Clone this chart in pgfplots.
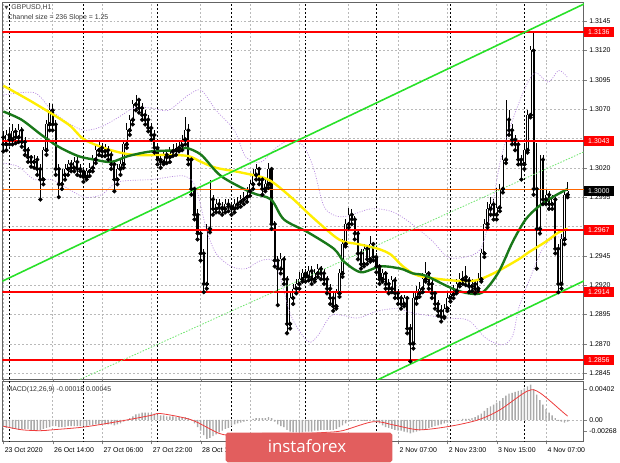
\documentclass[border=0pt]{standalone}
\usepackage{pgfplots}
\pgfplotsset{compat=1.18}
\usepackage{pgfplotstable}
\usepackage{fontspec}
\setmainfont{Liberation Sans}
\newfontfamily\dejavu{DejaVu Sans}
\newfontfamily\logofont{Open Sans}

\definecolor{mtred}{RGB}{255,0,0}
\definecolor{chgreen}{RGB}{40,225,40}
\definecolor{chgreenlt}{RGB}{110,230,110}
\definecolor{mayellow}{RGB}{255,238,0}
\definecolor{madark}{RGB}{25,120,25}
\definecolor{bbviolet}{RGB}{185,140,225}
\definecolor{gridgray}{RGB}{185,185,185}
\definecolor{logored}{RGB}{226,94,94}
\definecolor{framegray}{RGB}{100,100,100}
\definecolor{sigred}{RGB}{238,60,60}
\definecolor{histgray}{RGB}{170,170,170}

\pgfplotstableread{
x o h l c
0 1.3046 1.3051 1.3034 1.3040
1 1.3040 1.3052 1.3035 1.3048
2 1.3048 1.3054 1.3040 1.3044
3 1.3044 1.3057 1.3040 1.3051
4 1.3051 1.3054 1.3041 1.3046
5 1.3046 1.3057 1.3042 1.3052
6 1.3052 1.3055 1.3038 1.3042
7 1.3042 1.3046 1.3031 1.3035
8 1.3035 1.3038 1.3025 1.3029
9 1.3029 1.3031 1.3021 1.3025
10 1.3025 1.3031 1.3020 1.3027
11 1.3027 1.3030 1.3014 1.3019
12 1.3019 1.3023 1.2993 1.3010
13 1.3010 1.3038 1.3006 1.3035
14 1.3035 1.3061 1.3031 1.3057
15 1.3057 1.3075 1.3052 1.3069
16 1.3069 1.3074 1.3052 1.3057
17 1.3057 1.3061 1.3014 1.3019
18 1.3019 1.3023 1.2995 1.3006
19 1.3006 1.3019 1.3002 1.3014
20 1.3014 1.3023 1.3010 1.3019
21 1.3019 1.3027 1.3014 1.3023
22 1.3023 1.3027 1.3017 1.3020
23 1.3020 1.3029 1.3017 1.3025
24 1.3025 1.3029 1.3014 1.3019
25 1.3019 1.3023 1.3013 1.3017
26 1.3017 1.3020 1.3008 1.3012
27 1.3012 1.3020 1.3010 1.3017
28 1.3017 1.3024 1.3013 1.3020
29 1.3020 1.3031 1.3017 1.3027
30 1.3027 1.3040 1.3024 1.3035
31 1.3035 1.3042 1.3031 1.3037
32 1.3037 1.3041 1.3030 1.3034
33 1.3034 1.3040 1.3030 1.3035
34 1.3035 1.3039 1.3027 1.3031
35 1.3031 1.3034 1.3019 1.3023
36 1.3023 1.3025 1.3000 1.3010
37 1.3010 1.3023 1.3006 1.3019
38 1.3019 1.3027 1.3014 1.3023
39 1.3023 1.3044 1.3020 1.3040
40 1.3040 1.3058 1.3037 1.3052
41 1.3052 1.3065 1.3048 1.3061
42 1.3061 1.3078 1.3057 1.3074
43 1.3074 1.3082 1.3069 1.3078
44 1.3078 1.3079 1.3067 1.3071
45 1.3071 1.3075 1.3061 1.3065
46 1.3065 1.3069 1.3057 1.3061
47 1.3061 1.3065 1.3051 1.3054
48 1.3054 1.3058 1.3044 1.3048
49 1.3048 1.3052 1.3033 1.3037
50 1.3037 1.3040 1.3023 1.3027
51 1.3027 1.3031 1.3020 1.3025
52 1.3025 1.3035 1.3023 1.3031
53 1.3031 1.3034 1.3024 1.3029
54 1.3029 1.3038 1.3025 1.3034
55 1.3034 1.3040 1.3030 1.3035
56 1.3035 1.3041 1.3031 1.3037
57 1.3037 1.3044 1.3034 1.3039
58 1.3039 1.3048 1.3035 1.3044
59 1.3044 1.3063 1.3040 1.3052
60 1.3052 1.3057 1.3023 1.3027
61 1.3027 1.3030 1.2997 1.3002
62 1.3002 1.3004 1.2976 1.2980
63 1.2980 1.2985 1.2959 1.2964
64 1.2964 1.2968 1.2941 1.2947
65 1.2947 1.2951 1.2914 1.2921
66 1.2921 1.2972 1.2917 1.2968
67 1.2968 1.3010 1.2965 1.2993
68 1.2993 1.2997 1.2980 1.2985
69 1.2985 1.2993 1.2982 1.2989
70 1.2989 1.2993 1.2982 1.2986
71 1.2986 1.2991 1.2980 1.2985
72 1.2985 1.2993 1.2982 1.2989
73 1.2989 1.2993 1.2983 1.2987
74 1.2987 1.2991 1.2980 1.2985
75 1.2985 1.2993 1.2982 1.2989
76 1.2989 1.2995 1.2986 1.2991
77 1.2991 1.2997 1.2987 1.2993
78 1.2993 1.2999 1.2989 1.2995
79 1.2995 1.3004 1.2991 1.3000
80 1.3000 1.3010 1.2996 1.3006
81 1.3006 1.3019 1.3002 1.3014
82 1.3014 1.3023 1.3010 1.3019
83 1.3019 1.3021 1.3006 1.3010
84 1.3010 1.3013 1.2997 1.3002
85 1.3002 1.3012 1.3000 1.3006
86 1.3006 1.3024 1.3003 1.3019
87 1.3019 1.3021 1.2968 1.2972
88 1.2972 1.2975 1.2936 1.2941
89 1.2941 1.2945 1.2903 1.2934
90 1.2934 1.2947 1.2930 1.2942
91 1.2942 1.2945 1.2921 1.2925
92 1.2925 1.2928 1.2879 1.2887
93 1.2887 1.2913 1.2883 1.2909
94 1.2909 1.2921 1.2904 1.2917
95 1.2917 1.2925 1.2913 1.2921
96 1.2921 1.2931 1.2917 1.2925
97 1.2925 1.2934 1.2923 1.2930
98 1.2930 1.2934 1.2923 1.2927
99 1.2927 1.2936 1.2924 1.2932
100 1.2932 1.2936 1.2921 1.2925
101 1.2925 1.2934 1.2923 1.2930
102 1.2930 1.2938 1.2927 1.2934
103 1.2934 1.2936 1.2925 1.2930
104 1.2930 1.2934 1.2921 1.2925
105 1.2925 1.2928 1.2913 1.2917
106 1.2917 1.2921 1.2904 1.2909
107 1.2909 1.2913 1.2898 1.2902
108 1.2902 1.2917 1.2900 1.2913
109 1.2913 1.2934 1.2910 1.2930
110 1.2930 1.2959 1.2927 1.2955
111 1.2955 1.2976 1.2953 1.2972
112 1.2972 1.2986 1.2969 1.2980
113 1.2980 1.2985 1.2972 1.2976
114 1.2976 1.2979 1.2959 1.2964
115 1.2964 1.2968 1.2942 1.2947
116 1.2947 1.2951 1.2934 1.2938
117 1.2938 1.2955 1.2936 1.2951
118 1.2951 1.2953 1.2938 1.2942
119 1.2942 1.2962 1.2940 1.2955
120 1.2955 1.2957 1.2941 1.2944
121 1.2944 1.2947 1.2931 1.2936
122 1.2936 1.2938 1.2921 1.2925
123 1.2925 1.2934 1.2923 1.2930
124 1.2930 1.2932 1.2917 1.2921
125 1.2921 1.2925 1.2913 1.2917
126 1.2917 1.2928 1.2914 1.2924
127 1.2924 1.2927 1.2909 1.2913
128 1.2913 1.2917 1.2904 1.2909
129 1.2909 1.2912 1.2900 1.2904
130 1.2904 1.2912 1.2902 1.2909
131 1.2909 1.2911 1.2879 1.2883
132 1.2883 1.2887 1.2855 1.2870
133 1.2870 1.2913 1.2866 1.2909
134 1.2909 1.2919 1.2904 1.2913
135 1.2913 1.2923 1.2910 1.2917
136 1.2917 1.2930 1.2914 1.2925
137 1.2925 1.2940 1.2923 1.2930
138 1.2930 1.2932 1.2917 1.2921
139 1.2921 1.2924 1.2909 1.2913
140 1.2913 1.2915 1.2900 1.2904
141 1.2904 1.2907 1.2894 1.2898
142 1.2898 1.2903 1.2889 1.2893
143 1.2893 1.2904 1.2892 1.2900
144 1.2900 1.2913 1.2898 1.2909
145 1.2909 1.2917 1.2906 1.2912
146 1.2912 1.2920 1.2909 1.2915
147 1.2915 1.2925 1.2913 1.2921
148 1.2921 1.2930 1.2919 1.2925
149 1.2925 1.2932 1.2921 1.2927
150 1.2927 1.2936 1.2920 1.2924
151 1.2924 1.2927 1.2914 1.2919
152 1.2919 1.2925 1.2915 1.2921
153 1.2921 1.2924 1.2913 1.2917
154 1.2917 1.2930 1.2915 1.2925
155 1.2925 1.2951 1.2923 1.2947
156 1.2947 1.2976 1.2944 1.2972
157 1.2972 1.2991 1.2969 1.2985
158 1.2985 1.2995 1.2980 1.2989
159 1.2989 1.2993 1.2976 1.2980
160 1.2980 1.3003 1.2976 1.2986
161 1.2986 1.3006 1.2983 1.3002
162 1.3002 1.3031 1.2999 1.3027
163 1.3027 1.3078 1.3024 1.3061
164 1.3061 1.3069 1.3048 1.3052
165 1.3052 1.3057 1.3040 1.3044
166 1.3044 1.3048 1.3035 1.3040
167 1.3040 1.3042 1.3023 1.3027
168 1.3027 1.3031 1.3010 1.3023
169 1.3023 1.3040 1.3019 1.3035
170 1.3035 1.3069 1.3033 1.3065
171 1.3065 1.3124 1.3063 1.3120
172 1.3120 1.3137 1.2997 1.3002
173 1.3002 1.3041 1.2934 1.2968
174 1.2968 1.3031 1.2964 1.3027
175 1.3027 1.3031 1.2989 1.2993
176 1.2993 1.3002 1.2989 1.2997
177 1.2997 1.3000 1.2985 1.2989
178 1.2989 1.2997 1.2985 1.2993
179 1.2993 1.2995 1.2947 1.2951
180 1.2951 1.2955 1.2914 1.2921
181 1.2921 1.2964 1.2917 1.2959
182 1.2959 1.3002 1.2955 1.2997
183 1.2997 1.3008 1.2995 1.3000
}\candles

\pgfplotsset{
  daysep/.style={black, dash pattern=on 2pt off 2pt, line width=0.6pt, forget plot},
  hgrid/.style={gridgray, dash pattern=on 2pt off 2pt, line width=0.5pt, forget plot},
}

\begin{document}
\begin{tikzpicture}[x=1pt,y=1pt]
\fill[white] (0,0) rectangle (620,465);

% ---------------- main price pane ----------------
\begin{axis}[
  at={(2pt,84pt)}, anchor=south west, scale only axis,
  width=586pt, height=379pt,
  xmin=-0.3, xmax=188.25, ymin=1.2840, ymax=1.31605,
  axis line style={framegray, line width=1pt},
  xtick={0,16,32,48,64,80,96,112,128,144,160,176},
  xticklabels={},
  xtick style={draw=none},
  ytick={1.2845,1.2870,1.2895,1.2920,1.2945,1.2995,1.3020,1.3070,1.3095,1.3120,1.3145},
  ytick pos=right, yticklabel pos=right,
  tick align=outside, major tick length=3pt,
  xmajorgrids, ymajorgrids,
  major grid style={gridgray, dash pattern=on 2pt off 2pt, line width=0.5pt},
  yticklabel style={font=\fontsize{7}{8}\selectfont, text=black, xshift=-1pt,
    /pgf/number format/.cd, fixed, fixed zerofill, precision=4, assume math mode=true},
]
% hidden-label grid lines and day separators
\addplot[hgrid] coordinates {(-1,1.2970)(190,1.2970)};
\addplot[hgrid] coordinates {(-1,1.3045)(190,1.3045)};
\addplot[daysep] coordinates {(2,1.2830)(2,1.3170)};
\addplot[daysep] coordinates {(26,1.2830)(26,1.3170)};
\addplot[daysep] coordinates {(50,1.2830)(50,1.3170)};
\addplot[daysep] coordinates {(74,1.2830)(74,1.3170)};
\addplot[daysep] coordinates {(98,1.2830)(98,1.3170)};
\addplot[daysep] coordinates {(121,1.2830)(121,1.3170)};
\addplot[daysep] coordinates {(145,1.2830)(145,1.3170)};
\addplot[daysep] coordinates {(169,1.2830)(169,1.3170)};

% candle wicks
\addplot[only marks, mark=none, forget plot,
  error bars/.cd, y dir=plus, y explicit, error mark=none,
  error bar style={black, line width=0.7pt}]
  table[x=x, y=l, y error plus expr=\thisrow{h}-\thisrow{l}] {\candles};
% candle bodies
\addplot[only marks, mark=none, forget plot,
  error bars/.cd, y dir=plus, y explicit, error mark=none,
  error bar style={black, line width=2.2pt}]
  table[x=x, y expr={min(\thisrow{o},\thisrow{c})}, y error plus expr={abs(\thisrow{c}-\thisrow{o})}] {\candles};
% bullish hollow inner
\addplot[only marks, mark=none, forget plot,
  error bars/.cd, y dir=plus, y explicit, error mark=none,
  error bar style={white, line width=0.9pt}]
  table[x=x, y=o, y error plus expr={max(\thisrow{c}-\thisrow{o},0)}] {\candles};

% Bollinger bands
\addplot[bbviolet, line width=0.7pt, dash pattern=on 1pt off 1.5pt, smooth, tension=0.5] coordinates {
(0,1.3082)(10.1,1.3084)(15.6,1.3069)(21.1,1.3058)(26.3,1.3052)(31.8,1.3055)(37.3,1.3063)(42.5,1.3071)(48,1.3071)(53.5,1.3069)(60,1.3082)(64.2,1.3086)(69,1.3069)(74.9,1.3052)(78.7,1.3029)(83.6,1.3025)(88.4,1.3037)(93.3,1.3044)(97.5,1.3038)(100.7,1.3019)(104,1.2987)(107.9,1.2979)(111.8,1.2979)(119.2,1.2985)(125.7,1.2983)(130.5,1.2976)(138.6,1.2959)(144.1,1.2944)(149.9,1.2944)(154.8,1.2951)(158,1.2980)(161.3,1.3027)(165.2,1.3061)(169.4,1.3089)(172.6,1.3101)(176.8,1.3093)(180.1,1.3103)(183,1.3097)};
\addplot[bbviolet, line width=0.7pt, dash pattern=on 1pt off 1.5pt, smooth, tension=0.5] coordinates {
(0,1.3024)(4.9,1.3021)(10.1,1.3010)(15.6,1.3010)(21.1,1.3002)(26.3,1.2995)(31.8,1.2997)(37.3,1.3008)(48,1.3010)(58.7,1.3013)(62.6,1.3002)(65.8,1.2968)(69,1.2947)(73.9,1.2936)(78.7,1.2934)(83.6,1.2941)(88.4,1.2938)(93.3,1.2894)(98.8,1.2872)(102,1.2877)(106.2,1.2894)(110.5,1.2894)(115,1.2892)(121.5,1.2898)(127.9,1.2900)(133.1,1.2896)(144.1,1.2892)(150.9,1.2890)(156.4,1.2875)(161.9,1.2869)(165.2,1.2877)(167.1,1.2900)(170.4,1.2923)(174.9,1.2951)(179.1,1.2961)(183,1.2959)};

% moving averages
\addplot[mayellow, line width=2.4pt, smooth, tension=0.5] coordinates {
(0,1.3090)(10.1,1.3075)(21.1,1.3057)(26.3,1.3044)(35,1.3035)(42.5,1.3031)(53.5,1.3031)(60,1.3030)(64.2,1.3025)(69,1.3020)(77.1,1.3016)(85.9,1.3010)(93.3,1.2995)(99.8,1.2979)(107.2,1.2962)(110.5,1.2957)(115,1.2955)(121.5,1.2951)(125.7,1.2946)(129.6,1.2936)(134.7,1.2928)(145.7,1.2924)(153.2,1.2924)(159.7,1.2931)(167.1,1.2942)(170.4,1.2948)(175.9,1.2957)(180.1,1.2965)(183,1.2968)};
\addplot[madark, line width=2.4pt, smooth, tension=0.5] coordinates {
(0,1.3068)(5.9,1.3061)(12.4,1.3048)(17.9,1.3038)(24.3,1.3030)(29.5,1.3027)(35,1.3025)(40.5,1.3030)(48,1.3034)(56.7,1.3035)(59.3,1.3037)(64.2,1.3031)(70.6,1.3013)(80.4,1.2999)(86.8,1.2993)(91,1.2976)(98.8,1.2965)(107.2,1.2951)(110.5,1.2940)(116,1.2931)(122.4,1.2936)(128.9,1.2934)(132.8,1.2930)(137,1.2928)(145.7,1.2917)(150.9,1.2913)(155.5,1.2914)(160.6,1.2931)(165.2,1.2957)(169.4,1.2976)(173.6,1.2987)(178.1,1.2995)(183,1.3002)};

% horizontal levels
\addplot[mtred, line width=1.8pt] coordinates {(-1,1.3136)(190,1.3136)};
\addplot[mtred, line width=1.8pt] coordinates {(-1,1.3043)(190,1.3043)};
\addplot[mtred, line width=1.8pt] coordinates {(-1,1.2967)(190,1.2967)};
\addplot[mtred, line width=1.8pt] coordinates {(-1,1.2914)(190,1.2914)};
\addplot[mtred, line width=1.8pt] coordinates {(-1,1.2856)(190,1.2856)};
\addplot[orange!80!red, line width=0.5pt] coordinates {(-1,1.30015)(190,1.30015)};

% regression channel
\addplot[chgreen, line width=1.6pt] coordinates {(-0.6,1.2923)(188.6,1.3160)};
\addplot[chgreen, line width=1.6pt] coordinates {(118,1.2835)(188.6,1.2924)};
\addplot[chgreenlt, line width=0.8pt, dash pattern=on 1.5pt off 1.5pt] coordinates {(10,1.2822)(188.6,1.3034)};
\end{axis}

% ---------------- MACD pane ----------------
\begin{axis}[
  at={(2pt,21pt)}, anchor=south west, scale only axis,
  width=586pt, height=60pt,
  xmin=-0.3, xmax=188.25, ymin=-0.0024, ymax=0.0042,
  scaled y ticks=false,
  axis line style={framegray, line width=1pt},
  xtick={0,16,32,48,64,80,96,112,128,144,160,176},
  xticklabels={23 Oct 2020,26 Oct 14:00,27 Oct 06:00,27 Oct 22:00,28 Oct 14:00,,,,2 Nov 07:00,2 Nov 23:00,3 Nov 15:00,4 Nov 07:00},
  xticklabel style={font=\fontsize{7}{8}\selectfont, anchor=north west, xshift=-2pt, text=black},
  ytick={-0.0012,0,0.0034},
  yticklabels={-0.00268,0.00,0.00402},
  ytick pos=right, yticklabel pos=right,
  yticklabel style={font=\fontsize{7}{8}\selectfont, text=black, xshift=-1pt},
  tick align=outside, major tick length=3pt,
  xmajorgrids,
  major grid style={gridgray, dash pattern=on 2pt off 2pt, line width=0.5pt},
]
\addplot[daysep] coordinates {(2,-0.003)(2,0.005)};
\addplot[daysep] coordinates {(26,-0.003)(26,0.005)};
\addplot[daysep] coordinates {(50,-0.003)(50,0.005)};
\addplot[daysep] coordinates {(74,-0.003)(74,0.005)};
\addplot[daysep] coordinates {(98,-0.003)(98,0.005)};
\addplot[daysep] coordinates {(121,-0.003)(121,0.005)};
\addplot[daysep] coordinates {(145,-0.003)(145,0.005)};
\addplot[daysep] coordinates {(169,-0.003)(169,0.005)};
\addplot[hgrid] coordinates {(-1,0)(190,0)};
\addplot[ybar, bar width=1.4pt, fill=histgray, draw=none] coordinates {
(0,-0.0008)(1,-0.0009)(2,-0.0009)(3,-0.0010)(4,-0.0010)(5,-0.0011)(6,-0.0010)(7,-0.0010)(8,-0.0010)(9,-0.0011)(10,-0.0011)(11,-0.0011)(12,-0.0011)(13,-0.0010)(14,-0.0009)(15,-0.0008)(16,-0.0007)
(17,-0.0007)(18,-0.0008)(19,-0.0008)(20,-0.0008)(21,-0.0007)(22,-0.0007)(23,-0.0007)(24,-0.0007)(25,-0.0007)(26,-0.0007)(27,-0.0007)
(28,-0.0006)(29,-0.0006)(30,-0.0005)(31,-0.0005)(32,-0.0005)(33,-0.0005)(34,-0.0005)(35,-0.0005)(36,-0.0006)(37,-0.0005)(38,-0.0004)(39,-0.0002)(40,0.0000)(41,0.0002)
(42,0.0004)(43,0.0006)(44,0.0007)(45,0.0008)(46,0.0008)(47,0.0008)(48,0.0007)(49,0.0007)(50,0.0006)(51,0.0005)
(52,0.0005)(53,0.0004)(54,0.0004)(55,0.0004)(56,0.0003)(57,0.0003)(58,0.0003)(59,0.0003)(60,0.0002)(61,0.0000)
(62,-0.0004)(63,-0.0008)(64,-0.0012)(65,-0.0017)(66,-0.0021)(67,-0.0020)(68,-0.0018)(69,-0.0016)(70,-0.0014)
(71,-0.0012)(72,-0.0010)(73,-0.0009)(74,-0.0007)(75,-0.0005)(76,-0.0004)(77,-0.0003)(78,-0.0002)(79,-0.0001)(80,0.0000)
(81,0.0001)(82,0.0002)(83,0.0002)(84,0.0002)(85,0.0002)(86,0.0003)(87,0.0002)(88,-0.0002)(89,-0.0005)(90,-0.0007)
(91,-0.0008)(92,-0.0011)(93,-0.0013)(94,-0.0014)(95,-0.0014)(96,-0.0014)(97,-0.0014)(98,-0.0013)(99,-0.0013)(100,-0.0013)
(101,-0.0012)(102,-0.0012)(103,-0.0011)(104,-0.0011)(105,-0.0011)(106,-0.0011)(107,-0.0011)(108,-0.0010)(109,-0.0008)(110,-0.0006)
(111,-0.0004)(112,-0.0002)(113,-0.0001)(114,-0.0001)(115,-0.0001)(116,-0.0001)(117,-0.0001)(118,-0.0001)(119,0.0000)(120,-0.0001)
(121,-0.0002)(122,-0.0004)(123,-0.0006)(124,-0.0008)(125,-0.0009)(126,-0.0010)(127,-0.0011)(128,-0.0012)(129,-0.0012)(130,-0.0013)(131,-0.0014)(132,-0.0015)
(133,-0.0014)(134,-0.0013)(135,-0.0012)(136,-0.0011)(137,-0.0010)(138,-0.0009)(139,-0.0008)(140,-0.0007)(141,-0.0006)(142,-0.0005)(143,-0.0004)
(144,-0.0003)(145,-0.0002)(146,-0.0001)(147,0.0000)(148,0.0000)(149,0.0001)(150,0.0001)(151,0.0001)(152,0.0002)(153,0.0003)
(154,0.0005)(155,0.0007)(156,0.0010)(157,0.0013)(158,0.0015)(159,0.0017)(160,0.0019)(161,0.0021)(162,0.0024)(163,0.0027)(164,0.0029)
(165,0.0030)(166,0.0031)(167,0.0032)(168,0.0033)(169,0.0035)(170,0.0037)(171,0.0039)
(172,0.0034)(173,0.0028)(174,0.0022)(175,0.0017)(176,0.0012)(177,0.0008)(178,0.0005)(179,0.0002)
(180,-0.0001)(181,-0.0002)(182,-0.0003)(183,-0.0002)};
\addplot[sigred, line width=0.8pt, smooth, tension=0.5] coordinates {
(0,-0.0007)(6,-0.0011)(12,-0.0012)(16,-0.0011)(26,-0.0008)(37,-0.0002)(48,0.0005)(51,0.0007)(61,0.0000)(70,-0.0015)(75,-0.0017)(84,-0.0015)(97,-0.0015)(104,-0.0014)(110,-0.0012)(120,-0.0002)(127,-0.0006)(135,-0.0011)(145,-0.0007)(154,0.0000)(161,0.0011)(170,0.0032)(174,0.0030)(182,0.0007)(183,0.00045)};
\end{axis}

% price level boxes on the right scale
\tikzset{pbox/.style={fill=mtred, text=white, anchor=west, inner sep=0pt, minimum width=30pt, minimum height=10pt, font=\fontsize{7}{8}\selectfont}}
\node[pbox] at (588,434.0) {1.3136};
\node[pbox] at (588,324.05) {1.3043};
\node[pbox, fill=black] at (588,273.2) {1.3000};
\node[pbox] at (588,234.18) {1.2967};
\node[pbox] at (588,171.51) {1.2914};
\node[pbox] at (588,102.92) {1.2856};

% texts
\node[anchor=west, inner sep=0pt, font=\fontsize{7}{8}\selectfont, text=black!75] at (4,458) {{\dejavu\fontsize{5}{6}\selectfont ▼}\, GBPUSD,H1};
\node[anchor=west, inner sep=0pt, font=\fontsize{7}{8}\selectfont, text=black!80] at (7,448) {Channel size = 236 Slope = 1.25};
\node[anchor=west, inner sep=0pt, font=\fontsize{7}{8}\selectfont, text=black!80] at (6,73) {MACD(12,26,9) -0.00018 0.00045};

% logo
\fill[logored, rounded corners=2pt] (227,0) rectangle (395,30);
\node[text=white, inner sep=0pt, font=\logofont\fontsize{17}{18}\selectfont] at (309,16) {instaforex};
\end{tikzpicture}
\end{document}
